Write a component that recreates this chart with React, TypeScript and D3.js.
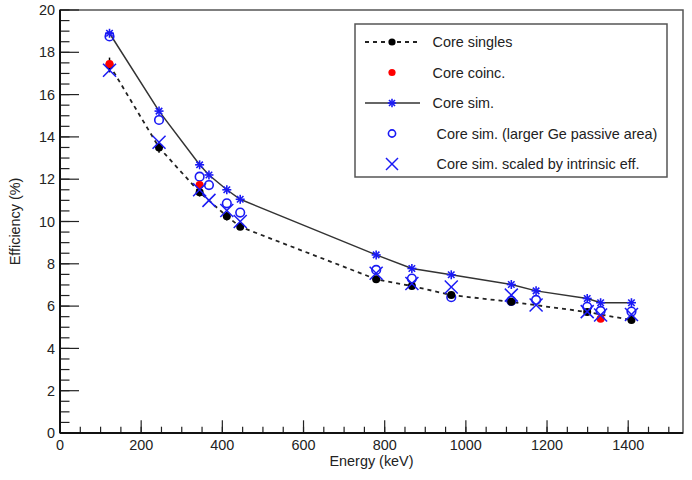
import React from 'react';
import * as d3 from 'd3';

// Energies (keV)
const energiesSingles = [122, 244, 344, 411, 444, 779, 867, 964, 1112, 1299, 1408];
const singlesEff = [17.4, 13.5, 11.38, 10.25, 9.75, 7.27, 6.95, 6.52, 6.2, 5.72, 5.34];
const singlesErr = [0.35, 0.25, 0.2, 0.2, 0.15, 0.12, 0.12, 0.12, 0.1, 0.1, 0.1];

const energiesCoinc = [122, 344, 1332];
const coincEff = [17.45, 11.72, 5.4];

const energiesSim = [122, 244, 344, 367, 411, 444, 779, 867, 964, 1112, 1173, 1299, 1332, 1408];
const simEff = [18.9, 15.22, 12.68, 12.2, 11.5, 11.05, 8.42, 7.78, 7.48, 7.02, 6.72, 6.36, 6.16, 6.16];
const simLargeEff = [18.75, 14.8, 12.12, 11.72, 10.86, 10.42, 7.71, 7.3, 6.42, 6.25, 6.29, 5.97, 5.77, 5.74];
const simScaledEff = [17.15, 13.75, 11.5, 11.0, 10.52, 10.0, 7.55, 7.07, 6.9, 6.52, 6.05, 5.74, 5.58, 5.6];

const xTicks = [0, 200, 400, 600, 800, 1000, 1200, 1400];
const yTicks = [0, 2, 4, 6, 8, 10, 12, 14, 16, 18, 20];

const legendLabels = [
  'Core singles',
  'Core coinc.',
  'Core sim.',
  'Core sim. (larger Ge passive area)',
  'Core sim. scaled by intrinsic eff.',
];

const FONT = '"Liberation Sans", Arial, Helvetica, sans-serif';
const BLUE = '#1a1af5';
const RED = '#ff0000';

const Star = ({ x, y, s = 4.5 }: { x: number; y: number; s?: number }) => {
  const d = s * 0.72;
  return (
    <g stroke={BLUE} strokeWidth={1.6}>
      <line x1={x - s} y1={y} x2={x + s} y2={y} />
      <line x1={x} y1={y - s} x2={x} y2={y + s} />
      <line x1={x - d} y1={y - d} x2={x + d} y2={y + d} />
      <line x1={x - d} y1={y + d} x2={x + d} y2={y - d} />
    </g>
  );
};

const Cross = ({ x, y, s = 6.5 }: { x: number; y: number; s?: number }) => (
  <g stroke={BLUE} strokeWidth={1.5}>
    <line x1={x - s} y1={y - s} x2={x + s} y2={y + s} />
    <line x1={x - s} y1={y + s} x2={x + s} y2={y - s} />
  </g>
);

export default function App() {
  const W = 692;
  const H = 480;
  const left = 60, right = 683, top = 10, bottom = 433;
  const x = d3.scaleLinear().domain([0, 1535]).range([left, right]);
  const y = d3.scaleLinear().domain([0, 20]).range([bottom, top]);

  const xMinor = d3.range(0, 1535, 50);
  const yMinor = d3.range(0, 20.01, 0.5);

  const line = d3
    .line<[number, number]>()
    .x((d) => x(d[0]))
    .y((d) => y(d[1]));

  const singlesPath = line(energiesSingles.map((e, i) => [e, singlesEff[i]]));
  const simPath = line(energiesSim.map((e, i) => [e, simEff[i]]));

  // legend geometry
  const lgX = 355, lgY = 24, lgW = 312, lgH = 153;
  const rowY = (i: number) => lgY + 18 + i * 30.5;
  const symX = 392;

  return (
    <svg width={W} height={H} style={{ position: 'absolute', left: 0, top: 0, background: '#fff' }} fontFamily={FONT}>
      <rect x={0} y={0} width={W} height={H} fill="#fff" />
      {/* frame */}
      <rect x={left} y={top} width={right - left} height={bottom - top} fill="none" stroke="#555" strokeWidth={1.5} />
      {/* minor ticks */}
      {yMinor.map((v) => (
        <line key={'ym' + v} x1={left} x2={left + 9.5} y1={y(v)} y2={y(v)} stroke="#222" strokeWidth={1.2} />
      ))}
      {yTicks.map((v) => (
        <line key={'yM' + v} x1={left} x2={left + 19} y1={y(v)} y2={y(v)} stroke="#222" strokeWidth={1.2} />
      ))}
      {xMinor.map((v) => (
        <line key={'xm' + v} x1={x(v)} x2={x(v)} y1={bottom} y2={bottom - 6.3} stroke="#222" strokeWidth={1.2} />
      ))}
      {xTicks.map((v) => (
        <line key={'xM' + v} x1={x(v)} x2={x(v)} y1={bottom} y2={bottom - 12.7} stroke="#222" strokeWidth={1.2} />
      ))}
      {/* axis lines */}
      <line x1={left} x2={left} y1={top} y2={bottom} stroke="#111" strokeWidth={2} />
      <line x1={left} x2={right} y1={bottom} y2={bottom} stroke="#111" strokeWidth={2} />
      {/* tick labels */}
      {yTicks.map((v) => (
        <text key={'yl' + v} x={55} y={y(v)} dy="0.36em" textAnchor="end" fontSize={14.4} fill="#222">
          {v}
        </text>
      ))}
      {xTicks.map((v) => (
        <text key={'xl' + v} x={x(v)} y={450} textAnchor="middle" fontSize={14.4} fill="#222">
          {v}
        </text>
      ))}
      {/* axis titles */}
      <text x={(left + right) / 2} y={466} textAnchor="middle" fontSize={14.4} fill="#222">
        Energy (keV)
      </text>
      <text
        transform={`translate(20,${(top + bottom) / 2}) rotate(-90)`}
        textAnchor="middle"
        fontSize={14.4}
        fill="#222"
      >
        Efficiency (%)
      </text>

      {/* lines */}
      <path d={singlesPath || ''} fill="none" stroke="#222" strokeWidth={1.8} strokeDasharray="4,4" />
      <path d={simPath || ''} fill="none" stroke="#333" strokeWidth={1.5} />

      {/* circles (larger Ge passive area) */}
      {energiesSim.map((e, i) => (
        <circle key={'c' + i} cx={x(e)} cy={y(simLargeEff[i])} r={4.3} fill="none" stroke={BLUE} strokeWidth={1.6} />
      ))}
      {/* singles */}
      {energiesSingles.map((e, i) => (
        <g key={'s' + i}>
          <line
            x1={x(e)}
            x2={x(e)}
            y1={y(singlesEff[i] - singlesErr[i])}
            y2={y(singlesEff[i] + singlesErr[i])}
            stroke="#000"
            strokeWidth={1.5}
          />
          <circle cx={x(e)} cy={y(singlesEff[i])} r={4} fill="#000" />
        </g>
      ))}
      {/* coinc */}
      {energiesCoinc.map((e, i) => (
        <circle key={'r' + i} cx={x(e)} cy={y(coincEff[i])} r={4} fill={RED} />
      ))}
      {/* scaled */}
      {energiesSim.map((e, i) => (
        <Cross key={'x' + i} x={x(e)} y={y(simScaledEff[i])} />
      ))}
      {/* sim stars */}
      {energiesSim.map((e, i) => (
        <Star key={'st' + i} x={x(e)} y={y(simEff[i])} />
      ))}

      {/* legend */}
      <rect x={lgX} y={lgY} width={lgW} height={lgH} fill="#fff" stroke="#555" strokeWidth={1.5} />
      <line x1={365} x2={418} y1={rowY(0)} y2={rowY(0)} stroke="#222" strokeWidth={1.8} strokeDasharray="4,4" />
      <circle cx={symX} cy={rowY(0)} r={3.6} fill="#000" />
      <circle cx={symX} cy={rowY(1)} r={3.6} fill={RED} />
      <line x1={365} x2={420} y1={rowY(2)} y2={rowY(2)} stroke="#333" strokeWidth={1.5} />
      <Star x={symX} y={rowY(2)} s={4.2} />
      <circle cx={symX} cy={rowY(3)} r={3.6} fill="none" stroke={BLUE} strokeWidth={1.6} />
      <Cross x={symX} y={rowY(4)} s={6} />
      {legendLabels.map((t, i) => (
        <text key={'lg' + i} x={i < 3 ? 432.5 : 436.5} y={rowY(i)} dy="0.36em" fontSize={14.4} fill="#222">
          {t}
        </text>
      ))}
    </svg>
  );
}
